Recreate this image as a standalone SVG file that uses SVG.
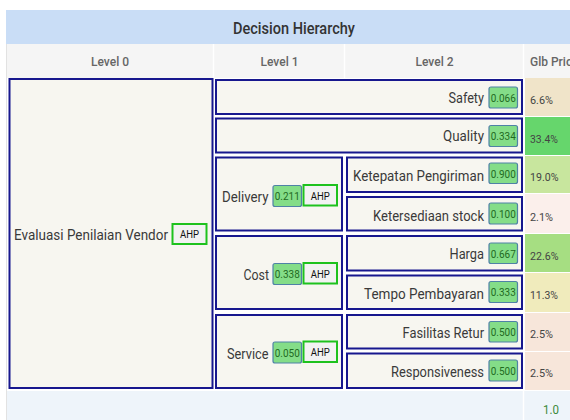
<svg xmlns="http://www.w3.org/2000/svg" width="570" height="420" viewBox="0 0 570 420">
  <style>
    text { font-family: Roboto, "Noto Sans", "DejaVu Sans", sans-serif; }
    .title { font-size: 16px; font-weight: 500; fill: #333; }
    .colhead { font-size: 12px; font-weight: 500; fill: #666; }
    .box { fill: #f7f6f0; stroke: #17178e; stroke-width: 2; }
    .lbl { font-size: 14px; fill: #3a3a3a; text-anchor: end; }
    .badge { fill: #84dd88; stroke: #4f82a6; stroke-width: 1.2; }
    .bval { font-size: 11px; fill: #1f6a1f; text-anchor: middle; }
    .ahp { fill: #f2f2f2; stroke: #1ec21e; stroke-width: 2; }
    .ahpt { font-size: 11px; fill: #111; text-anchor: middle; }
    .prio { font-size: 11.5px; fill: #444; }
  </style>

  <!-- page background -->
  <rect x="0" y="0" width="570" height="420" fill="#ffffff"/>

  <!-- title band -->
  <rect x="6" y="10" width="564" height="34" fill="#c9ddf6"/>
  <text class="title" x="294" y="34" text-anchor="middle" textLength="122" lengthAdjust="spacingAndGlyphs">Decision Hierarchy</text>

  <!-- column headings -->
  <rect x="6" y="44" width="564" height="34" fill="#f5f5f5"/>
  <line x1="213.5" y1="44" x2="213.5" y2="78" stroke="#ffffff" stroke-width="1.5"/>
  <line x1="344.5" y1="44" x2="344.5" y2="78" stroke="#ffffff" stroke-width="1.5"/>
  <line x1="523.5" y1="44" x2="523.5" y2="78" stroke="#ffffff" stroke-width="1.5"/>
  <text class="colhead" x="110" y="66" text-anchor="middle">Level 0</text>
  <text class="colhead" x="279.5" y="66" text-anchor="middle">Level 1</text>
  <text class="colhead" x="434.5" y="66" text-anchor="middle">Level 2</text>
  <text class="colhead" x="530" y="66">Glb Prio</text>

  <!-- left table edge -->
  <line x1="6.5" y1="44" x2="6.5" y2="420" stroke="#e2e2e2" stroke-width="1"/>

  <!-- global priority cells -->
  <g id="glb-prio">
    <rect x="525" y="78" width="45" height="38" fill="#f0e4c9"/>
    <rect x="525" y="117" width="45" height="38" fill="#66d66c"/>
    <rect x="525" y="156" width="45" height="37" fill="#c8e69e"/>
    <rect x="525" y="194" width="45" height="39" fill="#fbefeb"/>
    <rect x="525" y="234" width="45" height="38" fill="#a6de82"/>
    <rect x="525" y="273" width="45" height="39" fill="#f0ebbc"/>
    <rect x="525" y="313" width="45" height="38" fill="#f7e6da"/>
    <rect x="525" y="352" width="45" height="38" fill="#f7e6da"/>
    <text class="prio" x="530" y="103.5" textLength="23" lengthAdjust="spacingAndGlyphs">6.6%</text>
    <text class="prio" x="530" y="142.5" textLength="28" lengthAdjust="spacingAndGlyphs">33.4%</text>
    <text class="prio" x="530" y="181" textLength="28.5" lengthAdjust="spacingAndGlyphs">19.0%</text>
    <text class="prio" x="530" y="220.5" textLength="23" lengthAdjust="spacingAndGlyphs">2.1%</text>
    <text class="prio" x="530" y="259.5" textLength="28.5" lengthAdjust="spacingAndGlyphs">22.6%</text>
    <text class="prio" x="530" y="298.5" textLength="28" lengthAdjust="spacingAndGlyphs">11.3%</text>
    <text class="prio" x="530" y="338" textLength="23" lengthAdjust="spacingAndGlyphs">2.5%</text>
    <text class="prio" x="530" y="377" textLength="23" lengthAdjust="spacingAndGlyphs">2.5%</text>
  </g>

  <!-- footer total -->
  <rect x="7" y="391" width="563" height="29" fill="#eef4fa"/>
  <line x1="523.5" y1="391" x2="523.5" y2="420" stroke="#ffffff" stroke-width="1.5"/>
  <text x="543" y="414" font-size="12" fill="#3b8a3b" textLength="16" lengthAdjust="spacingAndGlyphs">1.0</text>

  <!-- level 0 -->
  <g id="evaluasi-penilaian-vendor">
    <rect class="box" x="9.5" y="79" width="203" height="309"/>
    <text class="lbl" x="168" y="239.5" textLength="154" lengthAdjust="spacingAndGlyphs">Evaluasi Penilaian Vendor</text>
    <rect class="ahp" x="172.5" y="224" width="34" height="20"/>
    <text class="ahpt" x="189.5" y="238" textLength="19" lengthAdjust="spacingAndGlyphs">AHP</text>
  </g>

  <!-- level 1 -->
  <g id="safety">
    <rect class="box" x="216" y="80" width="306" height="34"/>
    <text class="lbl" x="484" y="102.5" textLength="35.5" lengthAdjust="spacingAndGlyphs">Safety</text>
    <rect class="badge" x="489" y="87" width="28.5" height="21" rx="2"/>
    <text class="bval" x="503.25" y="101.5" textLength="25" lengthAdjust="spacingAndGlyphs">0.066</text>
  </g>
  <g id="quality">
    <rect class="box" x="216" y="118.5" width="306" height="34"/>
    <text class="lbl" x="484" y="141" textLength="41" lengthAdjust="spacingAndGlyphs">Quality</text>
    <rect class="badge" x="489" y="125.5" width="28.5" height="21" rx="2"/>
    <text class="bval" x="503.25" y="140" textLength="25" lengthAdjust="spacingAndGlyphs">0.334</text>
  </g>
  <g id="delivery">
    <rect class="box" x="216" y="157.5" width="126" height="73"/>
    <text class="lbl" x="268.5" y="201.5" textLength="46.5" lengthAdjust="spacingAndGlyphs">Delivery</text>
    <rect class="badge" x="273" y="185.5" width="28.5" height="21" rx="2"/>
    <text class="bval" x="287.25" y="200" textLength="25" lengthAdjust="spacingAndGlyphs">0.211</text>
    <rect class="ahp" x="303.5" y="185" width="33.5" height="20.5"/>
    <text class="ahpt" x="320.25" y="199.5" textLength="19" lengthAdjust="spacingAndGlyphs">AHP</text>
  </g>
  <g id="cost">
    <rect class="box" x="216" y="236" width="126" height="73"/>
    <text class="lbl" x="269" y="280" textLength="25.5" lengthAdjust="spacingAndGlyphs">Cost</text>
    <rect class="badge" x="273" y="263.5" width="28.5" height="21" rx="2"/>
    <text class="bval" x="287.25" y="278" textLength="25" lengthAdjust="spacingAndGlyphs">0.338</text>
    <rect class="ahp" x="303.5" y="263" width="33.5" height="20.5"/>
    <text class="ahpt" x="320.25" y="277.5" textLength="19" lengthAdjust="spacingAndGlyphs">AHP</text>
  </g>
  <g id="service">
    <rect class="box" x="216" y="315" width="126" height="73"/>
    <text class="lbl" x="268.5" y="358.5" textLength="41.5" lengthAdjust="spacingAndGlyphs">Service</text>
    <rect class="badge" x="273" y="342" width="28.5" height="21" rx="2"/>
    <text class="bval" x="287.25" y="356.5" textLength="25" lengthAdjust="spacingAndGlyphs">0.050</text>
    <rect class="ahp" x="303.5" y="341.5" width="33.5" height="20.5"/>
    <text class="ahpt" x="320.25" y="356" textLength="19" lengthAdjust="spacingAndGlyphs">AHP</text>
  </g>

  <!-- level 2 -->
  <g id="ketepatan-pengiriman">
    <rect class="box" x="347" y="157.5" width="175" height="34.5"/>
    <text class="lbl" x="484" y="180.5" textLength="131" lengthAdjust="spacingAndGlyphs">Ketepatan Pengiriman</text>
    <rect class="badge" x="489" y="163" width="28.5" height="20.5" rx="2"/>
    <text class="bval" x="503.25" y="177.5" textLength="25" lengthAdjust="spacingAndGlyphs">0.900</text>
  </g>
  <g id="ketersediaan-stock">
    <rect class="box" x="347" y="197" width="175" height="33.5"/>
    <text class="lbl" x="484" y="220.5" textLength="111" lengthAdjust="spacingAndGlyphs">Ketersediaan stock</text>
    <rect class="badge" x="489" y="203" width="28.5" height="21" rx="2"/>
    <text class="bval" x="503.25" y="217.5" textLength="25" lengthAdjust="spacingAndGlyphs">0.100</text>
  </g>
  <g id="harga">
    <rect class="box" x="347" y="236" width="175" height="34.5"/>
    <text class="lbl" x="484" y="259" textLength="34.5" lengthAdjust="spacingAndGlyphs">Harga</text>
    <rect class="badge" x="489" y="243" width="28.5" height="20.5" rx="2"/>
    <text class="bval" x="503.25" y="257.5" textLength="25" lengthAdjust="spacingAndGlyphs">0.667</text>
  </g>
  <g id="tempo-pembayaran">
    <rect class="box" x="347" y="275.5" width="175" height="33.5"/>
    <text class="lbl" x="484" y="298.5" textLength="120" lengthAdjust="spacingAndGlyphs">Tempo Pembayaran</text>
    <rect class="badge" x="489" y="281.5" width="28.5" height="21" rx="2"/>
    <text class="bval" x="503.25" y="296" textLength="25" lengthAdjust="spacingAndGlyphs">0.333</text>
  </g>
  <g id="fasilitas-retur">
    <rect class="box" x="347" y="315" width="175" height="33.5"/>
    <text class="lbl" x="484" y="338" textLength="81.5" lengthAdjust="spacingAndGlyphs">Fasilitas Retur</text>
    <rect class="badge" x="489" y="321.5" width="28.5" height="20.5" rx="2"/>
    <text class="bval" x="503.25" y="336" textLength="25" lengthAdjust="spacingAndGlyphs">0.500</text>
  </g>
  <g id="responsiveness">
    <rect class="box" x="347" y="353.5" width="175" height="34.5"/>
    <text class="lbl" x="484" y="376.5" textLength="93" lengthAdjust="spacingAndGlyphs">Responsiveness</text>
    <rect class="badge" x="489" y="360" width="28.5" height="21" rx="2"/>
    <text class="bval" x="503.25" y="374.5" textLength="25" lengthAdjust="spacingAndGlyphs">0.500</text>
  </g>
</svg>
